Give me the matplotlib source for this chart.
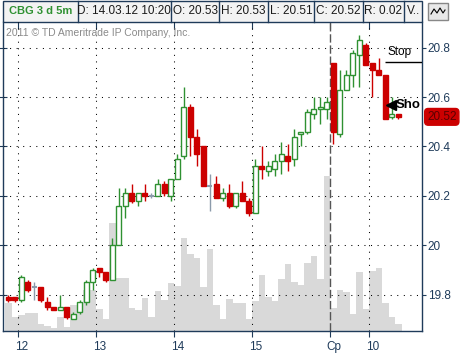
import numpy as np
import matplotlib
matplotlib.use("Agg")
import matplotlib.pyplot as plt
import matplotlib.transforms as mtransforms
from matplotlib.patches import Rectangle

plt.rcParams["font.family"] = ["Liberation Sans", "DejaVu Sans"]

# 5-minute candles, CBG, 3 days
opens = [19.79, 19.79, 19.78, 19.85, 19.83, 19.83, 19.77, 19.75, 19.74, 19.75,
         19.70, 19.73, 19.77, 19.85, 19.91, 19.89, 19.86, 20.00, 20.16, 20.21,
         20.18, 20.21, 20.20, 20.20, 20.25, 20.20, 20.27, 20.36, 20.56, 20.44,
         20.40, 20.24, 20.25, 20.19, 20.21, 20.16, 20.21, 20.18, 20.13, 20.32,
         20.30, 20.31, 20.34, 20.36, 20.35, 20.45, 20.46, 20.53, 20.55, 20.55,
         20.74, 20.45, 20.63, 20.69, 20.77, 20.81, 20.74, 20.71, 20.69, 20.52,
         20.53]
highs = [19.80, 19.79, 19.88, 19.86, 19.85, 19.83, 19.79, 19.75, 19.80, 19.75,
         19.73, 19.78, 19.86, 19.91, 19.91, 19.89, 20.03, 20.23, 20.23, 20.25,
         20.21, 20.25, 20.21, 20.27, 20.26, 20.27, 20.37, 20.64, 20.57, 20.47,
         20.40, 20.29, 20.28, 20.23, 20.25, 20.21, 20.26, 20.19, 20.35, 20.40,
         20.34, 20.37, 20.42, 20.41, 20.47, 20.46, 20.55, 20.60, 20.60, 20.60,
         20.74, 20.71, 20.71, 20.79, 20.85, 20.82, 20.74, 20.76, 20.69, 20.60,
         20.53]
lows = [19.77, 19.77, 19.77, 19.81, 19.78, 19.77, 19.74, 19.74, 19.74, 19.70,
        19.70, 19.72, 19.76, 19.82, 19.87, 19.85, 19.86, 20.00, 20.11, 20.17,
        20.16, 20.18, 20.19, 20.20, 20.20, 20.18, 20.27, 20.35, 20.36, 20.32,
        20.24, 20.14, 20.19, 20.18, 20.15, 20.15, 20.18, 20.12, 20.13, 20.27,
        20.28, 20.28, 20.29, 20.30, 20.32, 20.40, 20.45, 20.51, 20.49, 20.51,
        20.41, 20.44, 20.63, 20.64, 20.64, 20.73, 20.60, 20.69, 20.51, 20.51,
        20.51]
closes = [19.78, 19.78, 19.87, 19.82, 19.83, 19.78, 19.75, 19.74, 19.75, 19.71,
          19.72, 19.77, 19.85, 19.90, 19.89, 19.86, 20.00, 20.16, 20.21, 20.18,
          20.21, 20.20, 20.20, 20.25, 20.21, 20.27, 20.35, 20.56, 20.44, 20.37,
          20.24, 20.24, 20.19, 20.21, 20.16, 20.21, 20.18, 20.13, 20.32, 20.31,
          20.32, 20.34, 20.37, 20.34, 20.44, 20.46, 20.54, 20.55, 20.56, 20.58,
          20.46, 20.63, 20.69, 20.78, 20.83, 20.73, 20.71, 20.69, 20.51, 20.53,
          20.52]
volume = [28, 14, 16, 18, 18, 7, 5, 3, 14, 4,
          26, 25, 41, 41, 22, 12, 108, 53, 53, 23,
          21, 33, 14, 40, 31, 48, 45, 93, 77, 73,
          44, 82, 26, 12, 32, 28, 28, 12, 30, 56,
          34, 30, 52, 67, 49, 46, 68, 75, 52, 155,
          23, 41, 39, 17, 59, 22, 60, 63, 28, 14,
          7]

day_pos = [1.5, 13.5, 25.5, 37.5, 49.5, 55.5]
day_labels = ["12", "13", "14", "15", "Cp", "10"]
price_ticks = [19.8, 20.0, 20.2, 20.4, 20.6, 20.8]
price_labels = ["19.8", "20", "20.2", "20.4", "20.6", "20.8"]
stop_level = 20.742
short_level = 20.566
last_price = 20.52

header_cells = ["CBG 3 d 5m", "D: 14.03.12 10:20", "O: 20.53", "H: 20.53",
                "L: 20.51", "C: 20.52", "R: 0.02", "V.."]

NAVY = "#1f3b5a"
GREEN = "#2f9132"
RED = "#cc0000"
DOJI = "#8c9bab"

W, H = 464, 355
fig = plt.figure(figsize=(W / 100, H / 100), dpi=100)

def fx(px):
    return px / W

def fy(py):
    return 1 - py / H

rect = [fx(3), fy(331), fx(422) - fx(3), fy(22) - fy(331)]
idx = np.arange(len(opens))
xlim = (-0.81, 63.65)

# volume underneath
ax_v = fig.add_axes(rect)
ax_v.bar(idx, volume, width=1.0, color="#d9d9d9", linewidth=0)
ax_v.set_xlim(*xlim)
ax_v.set_ylim(0, 309)
ax_v.axis("off")

ax = fig.add_axes(rect, facecolor="none")
ax.set_zorder(ax_v.get_zorder() + 1)
ax.set_xlim(*xlim)
ax.set_ylim(19.653, 20.904)

# grid
for p in price_ticks:
    ax.axhline(p, color="k", lw=0.75, dashes=(1, 5.3), zorder=1)
for d in day_pos:
    if d == 49.5:
        ax.axvline(d, color="#555555", lw=1, dashes=(6, 2), zorder=1)
    else:
        ax.axvline(d, color="k", lw=0.75, dashes=(1, 5.3), zorder=1)

# candles
o = np.array(opens)
c = np.array(closes)
up = c > o
down = c < o
flat = c == o
wick_col = np.where(up, GREEN, np.where(down, RED, DOJI))
ax.vlines(idx, lows, highs, colors=wick_col, lw=1, zorder=2)
bottoms = np.minimum(o, c)
heights = np.abs(c - o)
ax.bar(idx[up], heights[up], bottom=bottoms[up], width=0.7,
       facecolor="white", edgecolor=GREEN, lw=1, zorder=3)
ax.bar(idx[down], heights[down], bottom=bottoms[down], width=0.7,
       facecolor=RED, edgecolor=RED, lw=1, zorder=3)
ax.hlines(o[flat], idx[flat] - 0.35, idx[flat] + 0.35, colors=DOJI, lw=1.5, zorder=3)

# axes styling
for side in ["left", "bottom", "right"]:
    ax.spines[side].set_color(NAVY)
    ax.spines[side].set_linewidth(1)
ax.spines["top"].set_visible(False)

ax.set_xticks(day_pos)
ax.set_xticklabels(day_labels)
ax.tick_params(axis="x", direction="out", length=4, color=NAVY, labelsize=8.5,
               labelcolor=NAVY, pad=3)
offset = mtransforms.ScaledTranslation(4 / 100, 0, fig.dpi_scale_trans)
for lab in ax.get_xticklabels():
    lab.set_transform(lab.get_transform() + offset)

ax.yaxis.tick_right()
ax.set_yticks(price_ticks)
ax.set_yticklabels(price_labels)
ax.tick_params(axis="y", direction="out", length=3, color=NAVY, labelsize=8.5,
               labelcolor=NAVY, pad=1)

sec_top = ax.secondary_xaxis("top")
sec_top.set_xticks(day_pos)
sec_top.set_xticklabels([])
sec_top.tick_params(direction="in", length=5, color=NAVY)
sec_top.spines["top"].set_visible(False)
sec_left = ax.secondary_yaxis("left")
sec_left.set_yticks(price_ticks)
sec_left.set_yticklabels([])
sec_left.tick_params(direction="inout", length=6, color=NAVY)
sec_left.spines["left"].set_visible(False)

# annotations
ax.text(0.007, 0.964, "2011 \u00a9 TD Ameritrade IP Company, Inc.", transform=ax.transAxes,
        fontsize=7.5, color="#8a8a8a", va="center", ha="left")
ax.hlines(stop_level, 57.96, xlim[1], colors="k", lw=1, zorder=4)
ax.text(60.2, 20.783, "Stop", fontsize=8.5, ha="center", va="center", zorder=4)
ax.plot(58.9, short_level, marker="<", color="k", ms=7, zorder=5)
ax.text(59.6, short_level, "Sho", fontsize=9.5, fontweight="bold", ha="left", va="center", zorder=5)

trans = mtransforms.blended_transform_factory(ax.transAxes, ax.transData)
ax.text(1.012, last_price, f"{last_price:.2f}", transform=trans, fontsize=8.5,
        color="#5a0000", ha="left", va="center",
        bbox=dict(boxstyle="round,pad=0.2,rounding_size=0.3", fc=RED, ec=RED))

# header bar
fig.patches.append(Rectangle((fx(3), fy(22)), fx(422) - fx(3), fy(1) - fy(22),
                             transform=fig.transFigure, facecolor="#f3f3f3",
                             edgecolor=NAVY, lw=1, zorder=0))
edges = [3, 77.7, 171, 219.3, 267.7, 314.3, 362.7, 404.3, 422]
for k, txt in enumerate(header_cells):
    if k > 0:
        fig.lines.append(plt.Line2D([fx(edges[k])] * 2, [fy(1), fy(22)],
                                    transform=fig.transFigure, color=NAVY, lw=1))
    xc = (edges[k] + edges[k + 1]) / 2
    if k == 0:
        fig.text(fx(xc), fy(11.5), txt, fontsize=8, fontweight="bold", color=GREEN,
                 ha="center", va="center")
    else:
        fig.text(fx(xc), fy(11.5), txt, fontsize=8.5, color="#1a1a1a",
                 ha="center", va="center")

# small chart button at top right
fig.patches.append(Rectangle((fx(428), fy(20)), fx(20), fy(3) - fy(20),
                             transform=fig.transFigure, facecolor="#e8e8e8",
                             edgecolor="#888888", lw=1))
fig.lines.append(plt.Line2D([fx(431), fx(434), fx(437), fx(440), fx(443), fx(445)],
                            [fy(14), fy(9), fy(13), fy(8), fy(13), fy(10)],
                            transform=fig.transFigure, color="k", lw=0.8))

fig.savefig("out.png", dpi=100, facecolor="white")
